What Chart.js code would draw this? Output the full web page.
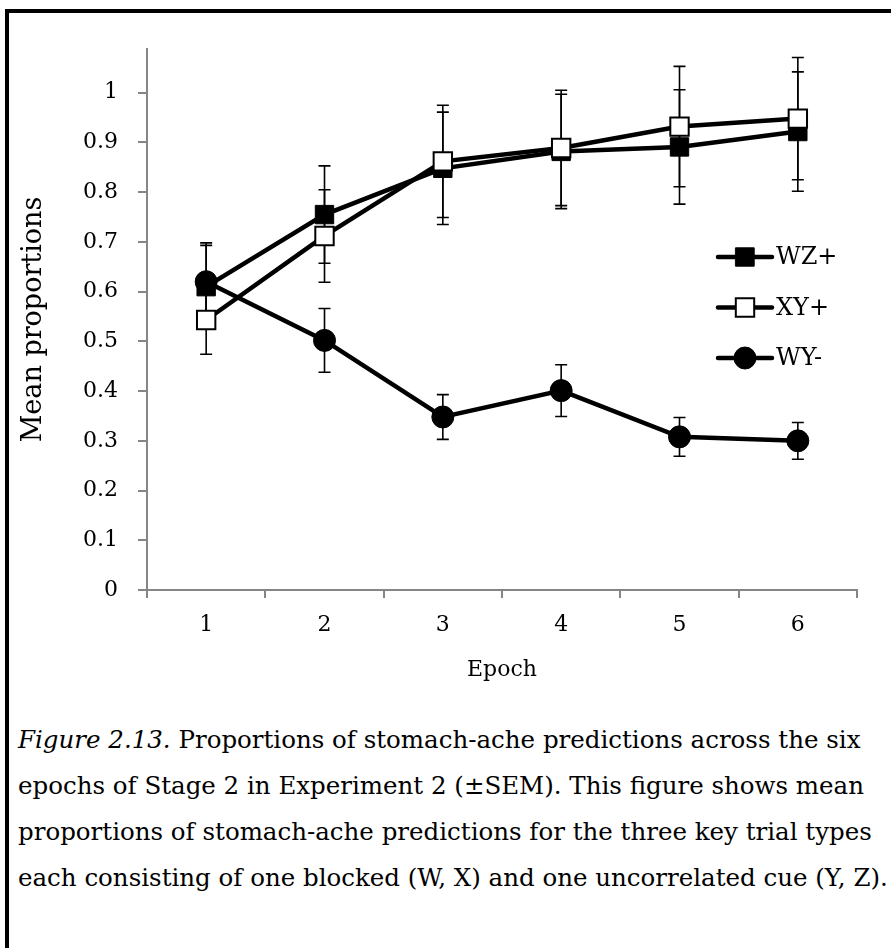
<!DOCTYPE html>
<html><head><meta charset="utf-8">
<script src="https://cdn.jsdelivr.net/npm/chart.js@4.4.0/dist/chart.umd.min.js"></script>
<style>
html,body{margin:0;padding:0;background:#fff;width:891px;height:948px;overflow:hidden;}
#frame{position:absolute;left:5px;top:9px;width:900px;height:950px;border-left:4px solid #000;border-top:4px solid #000;}
#wrap{position:absolute;left:0;top:0;width:891px;height:700px;}
#caption{position:absolute;left:18px;top:717px;width:873px;font-family:"DejaVu Serif";font-size:24.5px;line-height:46px;color:#000;white-space:nowrap;}
</style></head>
<body>
<div id="frame"></div>
<div id="wrap"><canvas id="c" width="891" height="700"></canvas></div>
<div id="caption"><i>Figure 2.13.</i> Proportions of stomach-ache predictions across the six<br>epochs of Stage 2 in Experiment 2 (±SEM). This figure shows mean<br>proportions of stomach-ache predictions for the three key trial types<br>each consisting of one blocked (W, X) and one uncorrelated cue (Y, Z).</div>
<script>
const epochs = ['1', '2', '3', '4', '5', '6'];
const seriesNames = ['WZ+', 'XY+', 'WY-'];
const wzPlus    = [0.610, 0.755, 0.848, 0.882, 0.891, 0.922];
const wzPlusSem = [0.083, 0.098, 0.113, 0.115, 0.115, 0.120];
const xyPlus    = [0.543, 0.712, 0.862, 0.889, 0.932, 0.948];
const xyPlusSem = [0.069, 0.093, 0.113, 0.116, 0.121, 0.123];
const wyMinus    = [0.620, 0.502, 0.348, 0.401, 0.308, 0.300];
const wyMinusSem = [0.078, 0.064, 0.045, 0.052, 0.039, 0.037];
const yAxisTitle = 'Mean proportions';
const xAxisTitle = 'Epoch';

const FONT = 'DejaVu Serif';

const errorBars = {
  id: 'errorBars',
  beforeDatasetsDraw(chart) {
    const ctx = chart.ctx, ys = chart.scales.y;
    chart.data.datasets.forEach((ds, i) => {
      const meta = chart.getDatasetMeta(i);
      meta.data.forEach((pt, j) => {
        const v = ds.data[j], e = ds.sem[j];
        const x = pt.x, t = ys.getPixelForValue(v + e), b = ys.getPixelForValue(v - e);
        ctx.save();
        ctx.strokeStyle = '#000'; ctx.lineWidth = 1.6;
        ctx.beginPath();
        ctx.moveTo(x, t); ctx.lineTo(x, b);
        ctx.moveTo(x - 6, t); ctx.lineTo(x + 6, t);
        ctx.moveTo(x - 6, b); ctx.lineTo(x + 6, b);
        ctx.stroke();
        ctx.restore();
      });
    });
  }
};

const legendBox = {
  id: 'legendBox',
  afterDraw(chart) {
    const ctx = chart.ctx;
    chart.data.datasets.forEach((ds, i) => {
      const yy = 257 + i * 50.5;
      ctx.save();
      ctx.strokeStyle = '#000'; ctx.lineWidth = 4.5; ctx.lineCap = 'round';
      ctx.beginPath(); ctx.moveTo(718, yy); ctx.lineTo(772, yy); ctx.stroke();
      ctx.fillStyle = ds.pointBackgroundColor; ctx.strokeStyle = '#000'; ctx.lineWidth = ds.pointBorderWidth;
      Chart.helpers.drawPoint(ctx, {pointStyle: ds.pointStyle, radius: ds.pointRadius, borderWidth: ds.pointBorderWidth, rotation: 0}, 745, yy);
      ctx.fillStyle = '#000'; ctx.font = '24px "' + FONT + '"';
      ctx.textBaseline = 'middle'; ctx.textAlign = 'left';
      ctx.fillText(ds.label, 776, yy + 1);
      ctx.restore();
    });
  }
};

const axisGray = '#868686';

new Chart(document.getElementById('c'), {
  type: 'line',
  data: {
    labels: epochs,
    datasets: [
      {label: seriesNames[0], data: wzPlus, sem: wzPlusSem, borderColor: '#000', borderWidth: 4.5,
       pointStyle: 'rect', pointRadius: 13, pointBackgroundColor: '#000', pointBorderColor: '#000', pointBorderWidth: 1, order: 3},
      {label: seriesNames[1], data: xyPlus, sem: xyPlusSem, borderColor: '#000', borderWidth: 4.5,
       pointStyle: 'rect', pointRadius: 13, pointBackgroundColor: '#fff', pointBorderColor: '#000', pointBorderWidth: 2, order: 2},
      {label: seriesNames[2], data: wyMinus, sem: wyMinusSem, borderColor: '#000', borderWidth: 4.5,
       pointStyle: 'circle', pointRadius: 11, pointBackgroundColor: '#000', pointBorderColor: '#000', pointBorderWidth: 1, order: 1}
    ]
  },
  options: {
    responsive: false, animation: false, devicePixelRatio: 1,
    layout: {padding: {top: 49, right: 34, left: 0, bottom: 0}},
    elements: {line: {tension: 0}},
    plugins: {legend: {display: false}, tooltip: {enabled: false}},
    scales: {
      x: {
        type: 'category', offset: true,
        grid: {display: true, drawOnChartArea: false, drawTicks: true, tickLength: 8, color: axisGray, lineWidth: 2, offset: true},
        border: {display: true, color: axisGray, width: 2},
        ticks: {color: '#000', font: {family: FONT, size: 22}, padding: 14, maxRotation: 0},
        title: {display: true, text: xAxisTitle, color: '#000', font: {family: FONT, size: 22}, padding: {top: 0, bottom: 17}},
        afterFit(s) { s.height = 110; }
      },
      y: {
        min: 0, max: 1.088,
        afterBuildTicks(s) { s.ticks = s.ticks.filter(t => t.value <= 1.0001); },
        grid: {display: true, drawOnChartArea: false, drawTicks: true, tickLength: 9, color: axisGray, lineWidth: 2},
        border: {display: true, color: axisGray, width: 2},
        ticks: {stepSize: 0.1, color: '#000', font: {family: FONT, size: 22}, padding: 20,
                callback: v => String(Math.round(v * 10) / 10)},
        title: {display: true, text: yAxisTitle, color: '#000', font: {family: FONT, size: 27}, padding: {top: 18, bottom: 0}},
        afterFit(s) { s.width = 147; }
      }
    }
  },
  plugins: [errorBars, legendBox]
});
</script>
</body></html>
